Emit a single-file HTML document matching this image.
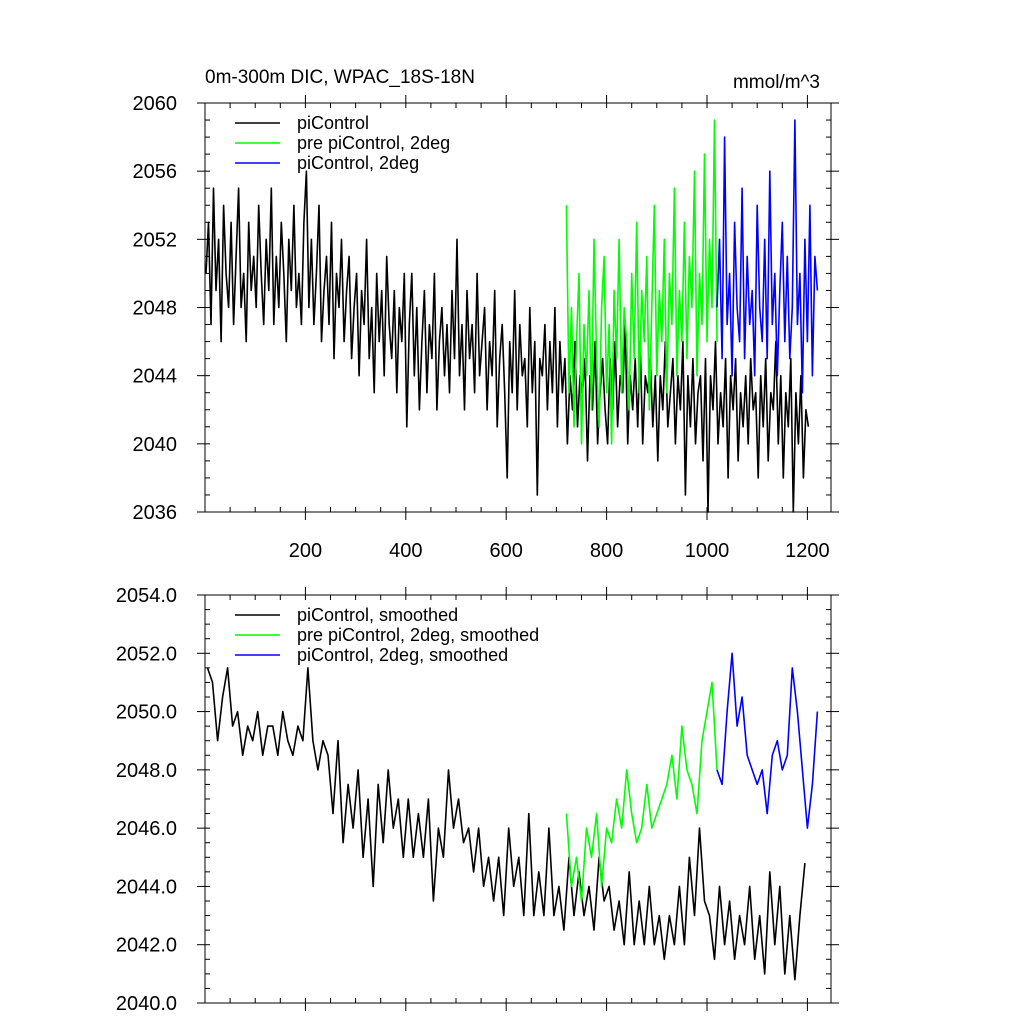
<!DOCTYPE html>
<html><head><meta charset="utf-8"><style>
body{margin:0;background:#fff;}
svg text{font-family:"Liberation Sans",sans-serif;fill:#000;}
</style></head><body>
<svg id="chart" width="1024" height="1024" viewBox="0 0 1024 1024" xmlns="http://www.w3.org/2000/svg">
<text x="205" y="83" font-size="19">0m-300m DIC, WPAC_18S-18N</text>
<text x="820" y="88" font-size="19" text-anchor="end">mmol/m^3</text>
<g id="top"></g>
<g id="bot"></g>
</svg>
<script>
const topBlack=[2050,2053,2047,2055,2049,2052,2046,2054,2050,2048,2053,2047,2051,2055,2048,2050,2046,2053,2049,2051,
2048,2054,2050,2047,2052,2049,2055,2047,2051,2048,2053,2050,2046,2052,2049,2054,2048,2050,2047,2053,
2056,2048,2052,2047,2050,2054,2046,2049,2051,2047,2053,2045,2050,2048,2052,2046,2049,2051,2045,2048,
2050,2044,2049,2047,2052,2045,2048,2043,2050,2046,2049,2044,2051,2047,2045,2049,2043,2048,2046,2050,
2041,2047,2050,2044,2048,2042,2046,2049,2043,2047,2045,2050,2042,2046,2048,2044,2047,2043,2049,2045,
2052,2044,2047,2042,2049,2045,2047,2043,2050,2044,2046,2048,2042,2046,2044,2049,2041,2045,2047,2043,
2038,2046,2043,2049,2042,2047,2044,2045,2041,2048,2043,2046,2037,2045,2044,2047,2042,2046,2043,2048,
2041,2046,2043,2045,2040,2044,2042,2046,2041,2044,2043,2045,2039,2044,2042,2046,2040,2043,2045,2042,
2040,2045,2042,2046,2041,2044,2043,2047,2040,2044,2042,2045,2041,2046,2040,2044,2043,2045,2041,2044,
2039,2044,2042,2046,2041,2043,2045,2040,2044,2042,2046,2037,2044,2041,2045,2040,2043,2044,2039,2045,
2036,2044,2042,2046,2040,2043,2041,2045,2038,2044,2042,2045,2039,2043,2041,2044,2040,2045,2042,2043,
2038,2044,2041,2045,2039,2043,2042,2046,2040,2044,2038,2043,2041,2045,2036,2043,2040,2044,2038,2042,2041];
const topGreen=[2054,2043,2048,2041,2046,2050,2040,2047,2044,2049,2042,2052,2045,2041,2048,2051,2043,2047,2040,2049,
2045,2052,2043,2048,2046,2042,2050,2045,2053,2043,2049,2046,2051,2042,2048,2054,2044,2049,2046,2052,
2043,2050,2047,2055,2044,2049,2046,2053,2045,2051,2048,2056,2044,2050,2047,2057,2046,2052,2048,2059,2046];
const topBlue=[2048,2052,2045,2058,2047,2050,2044,2053,2048,2046,2055,2045,2051,2047,2049,2044,2054,2048,2046,2052,
2045,2056,2047,2050,2044,2049,2053,2046,2051,2045,2048,2059,2047,2050,2043,2052,2046,2054,2044,2051,2049];
const botBlack=[2051.5,2051,2049,2050.5,2051.5,2049.5,2050,2048.5,2049.5,2049,2050,2048.5,2049.5,2049.5,2048.5,2050,2049,2048.5,2049.5,2049,
2051.5,2049,2048,2049,2048.5,2046.5,2049,2045.5,2047.5,2046,2048,2045,2047,2044,2047.5,2045.5,2048,2046,2047,2045,
2047,2045,2046.5,2045,2047,2043.5,2046,2045,2048,2046,2047,2045.5,2046,2044.5,2046,2044,2045,2043.5,2045,2043,
2046,2044,2045,2043,2046.5,2043,2044.5,2043,2046,2043,2044,2042.5,2045,2043,2044.5,2043,2044,2042.5,2045,2043.5,
2044,2042.5,2043.5,2042,2044.5,2042,2043.5,2042,2044,2042,2043,2041.5,2043,2042,2044,2042,2045,2043,2046,2043.5,
2043,2041.5,2044,2042,2043.5,2041.5,2043,2042,2044,2041.5,2043,2041,2044.5,2042,2044,2041,2043,2040.8,2043,2044.8];
const botGreen=[2046.5,2044,2045,2043.5,2046,2045,2046.5,2044,2046,2045.5,2047,2046,2048,2046.5,2045.5,2046,2047.5,2046,2046.5,2047,2047.5,2048.5,2047,2049.5,2048,2047.5,2046.5,2049,2050,2051,2048];
const botBlue=[2048,2047.5,2050,2052,2049.5,2050.5,2048.5,2048,2047.5,2048,2046.5,2048.5,2049,2048,2048.5,2051.5,2050,2048,2046,2047.5,2050];
const xTicks=[200,400,600,800,1000,1200];
const topYTicks=[2036,2040,2044,2048,2052,2056,2060];
const botYTicks=[2040,2042,2044,2046,2048,2050,2052,2054];

const NS="http://www.w3.org/2000/svg";
const L=205,R=831;
const xs=v=>L+(v)*0.502;
function el(p,t,a){const e=document.createElementNS(NS,t);for(const k in a)e.setAttribute(k,a[k]);p.appendChild(e);return e;}
function panel(g,T,B,y0,y1,yt,minorStep,fmt,showX,series,legend){
  const ys=v=>B-(v-y0)/(y1-y0)*(B-T);
  for(const s of series){
    const pts=s.vals.map((v,i)=>xs(s.start+i*s.step).toFixed(1)+","+ys(v).toFixed(1)).join(" ");
    const pl=el(g,"polyline",{points:pts,fill:"none",stroke:s.c,"stroke-width":1.6,"stroke-linejoin":"round"});
    
    
  }
  const fr=el(g,"rect",{x:L,y:T,width:R-L,height:B-T,fill:"none",stroke:"#000","stroke-width":1});
  
  
  for(let v=y0;v<=y1+1e-9;v+=minorStep){const y=ys(v);el(g,"line",{x1:L,x2:L+5,y1:y,y2:y,stroke:"#000"});el(g,"line",{x1:R,x2:R-5,y1:y,y2:y,stroke:"#000"});}
  for(const v of yt){const y=ys(v);el(g,"line",{x1:L-8,x2:L,y1:y,y2:y,stroke:"#000"});el(g,"line",{x1:R,x2:R+8,y1:y,y2:y,stroke:"#000"});
    const t=el(g,"text",{x:L-28,y:y+7,"font-size":20,"text-anchor":"end"});t.textContent=fmt(v);
    
    }
  for(let v=50;v<=1240;v+=50){const x=xs(v);el(g,"line",{x1:x,x2:x,y1:B,y2:B-5,stroke:"#000"});el(g,"line",{x1:x,x2:x,y1:T,y2:T+5,stroke:"#000"});}
  for(const v of xTicks){const x=xs(v);el(g,"line",{x1:x,x2:x,y1:B,y2:B+8,stroke:"#000"});el(g,"line",{x1:x,x2:x,y1:T,y2:T-8,stroke:"#000"});
    if(showX){const t=el(g,"text",{x:x,y:B+45,"font-size":20,"text-anchor":"middle"});t.textContent=v;
    
    }}
  legend.forEach((lg,i)=>{const y=T+20+i*20;
    const ln=el(g,"line",{x1:235,x2:280,y1:y,y2:y,stroke:lg[1],"stroke-width":1.5});
    
    
    const t=el(g,"text",{x:297,y:y+6,"font-size":18});t.textContent=lg[0];
    
    });
}
panel(document.getElementById("top"),103,512,2036,2060,topYTicks,1,v=>String(v),true,
 [{vals:topBlack,start:2,step:5,c:"#000",name:"top-picontrol-line"},{vals:topGreen,start:720,step:5,c:"#00ff00",name:"top-pre-picontrol-2deg-line"},{vals:topBlue,start:1020,step:5,c:"#0000ff",name:"top-picontrol-2deg-line"}],
 [["piControl","#000"],["pre piControl, 2deg","#00ff00"],["piControl, 2deg","#0000ff"]]);
panel(document.getElementById("bot"),595,1003,2040,2054,botYTicks,0.5,v=>v.toFixed(1),false,
 [{vals:botBlack,start:5,step:10,c:"#000",name:"bottom-picontrol-smoothed-line"},{vals:botGreen,start:720,step:10,c:"#00ff00",name:"bottom-pre-picontrol-smoothed-line"},{vals:botBlue,start:1020,step:10,c:"#0000ff",name:"bottom-picontrol-2deg-smoothed-line"}],
 [["piControl, smoothed","#000"],["pre piControl, 2deg, smoothed","#00ff00"],["piControl, 2deg, smoothed","#0000ff"]]);
</script>
</body></html>
